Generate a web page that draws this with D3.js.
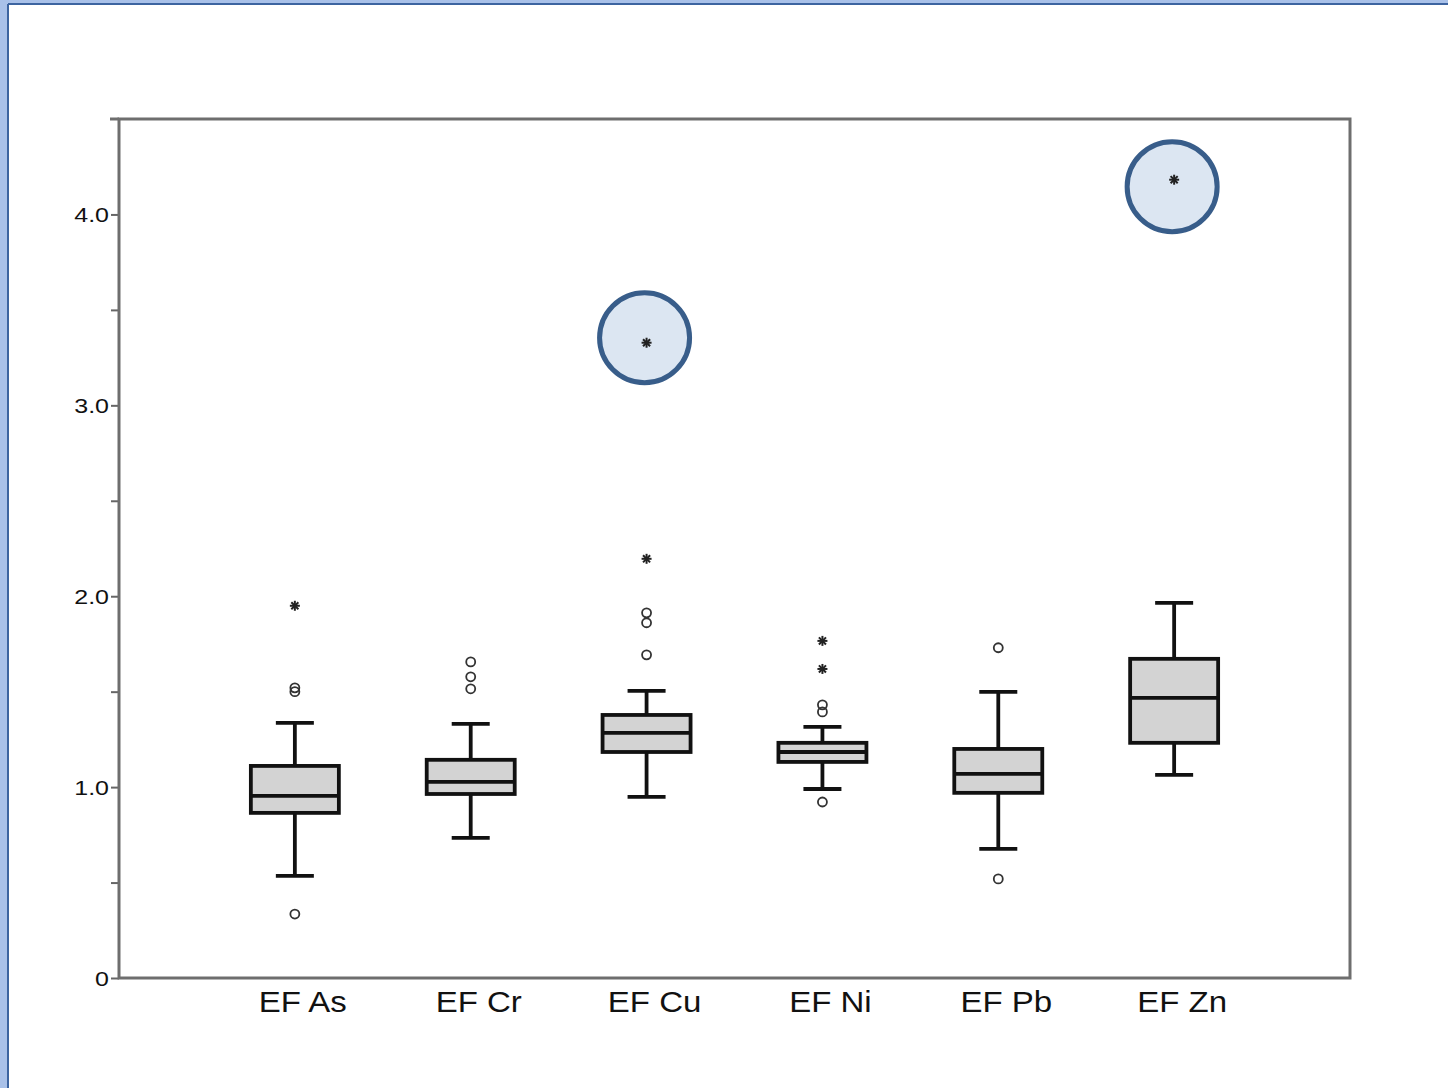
<!DOCTYPE html>
<html><head><meta charset="utf-8">
<script src="https://cdn.jsdelivr.net/npm/d3@7"></script>
<style>body{margin:0;background:#fff;}svg{display:block;}</style>
</head><body>
<script>
const categories = ["EF As","EF Cr","EF Cu","EF Ni","EF Pb","EF Zn"];
const q1 =      [0.865, 0.964, 1.184, 1.132, 0.970, 1.232];
const median =  [0.954, 1.027, 1.284, 1.184, 1.069, 1.468];
const q3 =      [1.111, 1.143, 1.378, 1.232, 1.200, 1.672];
const whiskLo = [0.535, 0.734, 0.949, 0.990, 0.676, 1.064];
const whiskHi = [1.336, 1.331, 1.504, 1.316, 1.499, 1.965];
// outliers (circles) and extremes (asterisks)
const circleOutliers = [
  [1.52, 1.50, 0.335],
  [1.656, 1.578, 1.515],
  [1.913, 1.861, 1.693],
  [1.431, 1.394, 0.922],
  [1.730, 0.519],
  []
];
const starOutliers = [
  [1.95],
  [],
  [2.196, 3.328],
  [1.766, 1.619],
  [],
  [4.182]
];
const highlighted = [["EF Cu", 3.328], ["EF Zn", 4.182]];
const yTicks = [0, 0.5, 1, 1.5, 2, 2.5, 3, 3.5, 4];

(function () {
const W = 1448, H = 1088;
const svg = d3.select("body").append("svg").attr("width", W).attr("height", H);

// page frame (slide border)
svg.append("rect").attr("x",0).attr("y",0).attr("width",W).attr("height",H).attr("fill","#fff");
svg.append("rect").attr("x",0).attr("y",0).attr("width",8).attr("height",H).attr("fill","#a9c1e9");
svg.append("rect").attr("x",0).attr("y",0).attr("width",W).attr("height",4).attr("fill","#a9c1e9");
svg.append("line").attr("x1",8).attr("x2",8).attr("y1",4).attr("y2",H).attr("stroke","#3d64a0").attr("stroke-width",2);
svg.append("line").attr("x1",8).attr("x2",W).attr("y1",4).attr("y2",4).attr("stroke","#3d64a0").attr("stroke-width",2);

const pL = 119, pR = 1350, pT = 119, pB = 978;
const x = d3.scalePoint().domain(categories).range([pL, pR]).padding(1);
const y = d3.scaleLinear().domain([0, 4.5]).range([pB, pT]);

// y axis
const sx = 1.25;
const yAxis = d3.axisLeft(y).tickValues(yTicks).tickSize(8).tickPadding(2)
  .tickFormat(d => Number.isInteger(d) ? (d === 0 ? "0" : d.toFixed(1)) : "");
const gy = svg.append("g").attr("transform", `translate(${pL},0)`).call(yAxis);
gy.select(".domain").remove();
gy.selectAll(".tick line").attr("stroke","#666").attr("stroke-width",2);
gy.selectAll(".tick text").attr("fill","#111").attr("font-family","Liberation Sans, Arial, sans-serif")
  .attr("font-size",20).attr("dy","0.36em")
  .attr("x", -10 / sx).attr("transform", `scale(${sx},1)`);

// plot frame
svg.append("line").attr("x1",pL-9).attr("x2",pL).attr("y1",pT).attr("y2",pT).attr("stroke","#6e6e6e").attr("stroke-width",3);
svg.append("rect").attr("x",pL).attr("y",pT).attr("width",pR-pL).attr("height",pB-pT)
  .attr("fill","none").attr("stroke","#6e6e6e").attr("stroke-width",3);

// x labels
const lsx = 1.1;
svg.append("g").selectAll("text").data(categories).join("text")
  .attr("transform", d => `translate(${x(d) + 8},1012) scale(${lsx},1)`)
  .attr("text-anchor","middle").attr("font-family","Liberation Sans, Arial, sans-serif")
  .attr("font-size",30).attr("fill","#111").text(d => d);

const boxW = 88, capW = 38, sw = 3.8;
const g = svg.append("g");
categories.forEach((c, i) => {
  const cx = x(c);
  g.append("line").attr("x1",cx).attr("x2",cx).attr("y1",y(whiskHi[i])).attr("y2",y(q3[i])).attr("stroke","#111").attr("stroke-width",sw);
  g.append("line").attr("x1",cx).attr("x2",cx).attr("y1",y(q1[i])).attr("y2",y(whiskLo[i])).attr("stroke","#111").attr("stroke-width",sw);
  g.append("line").attr("x1",cx-capW/2).attr("x2",cx+capW/2).attr("y1",y(whiskHi[i])).attr("y2",y(whiskHi[i])).attr("stroke","#111").attr("stroke-width",sw);
  g.append("line").attr("x1",cx-capW/2).attr("x2",cx+capW/2).attr("y1",y(whiskLo[i])).attr("y2",y(whiskLo[i])).attr("stroke","#111").attr("stroke-width",sw);
  g.append("rect").attr("x",cx-boxW/2).attr("y",y(q3[i])).attr("width",boxW).attr("height",y(q1[i])-y(q3[i]))
    .attr("fill","#d3d3d3").attr("stroke","#111").attr("stroke-width",sw);
  g.append("line").attr("x1",cx-boxW/2).attr("x2",cx+boxW/2).attr("y1",y(median[i])).attr("y2",y(median[i])).attr("stroke","#111").attr("stroke-width",sw);
});

// highlight circles (behind points)
const hl = svg.append("g");
highlighted.forEach(([c, v]) => {
  hl.append("circle").attr("cx", x(c) - 2).attr("cy", y(v) + (c === "EF Zn" ? 7 : -5)).attr("r", 45)
    .attr("fill","#dce6f2").attr("stroke","#385d8a").attr("stroke-width",5);
});

// outliers
categories.forEach((c, i) => {
  const cx = x(c);
  circleOutliers[i].forEach(v => {
    svg.append("circle").attr("cx",cx).attr("cy",y(v)).attr("r",4.5)
      .attr("fill","none").attr("stroke","#333").attr("stroke-width",1.8);
  });
  starOutliers[i].forEach(v => {
    const sg = svg.append("g").attr("transform",`translate(${cx},${y(v)})`);
    const r = 5;
    [0,45,90,135].forEach(a => {
      const rad = a*Math.PI/180;
      sg.append("line").attr("x1",-r*Math.cos(rad)).attr("y1",-r*Math.sin(rad))
        .attr("x2",r*Math.cos(rad)).attr("y2",r*Math.sin(rad))
        .attr("stroke","#222").attr("stroke-width",2);
    });
  });
});
})();
</script>
</body></html>
